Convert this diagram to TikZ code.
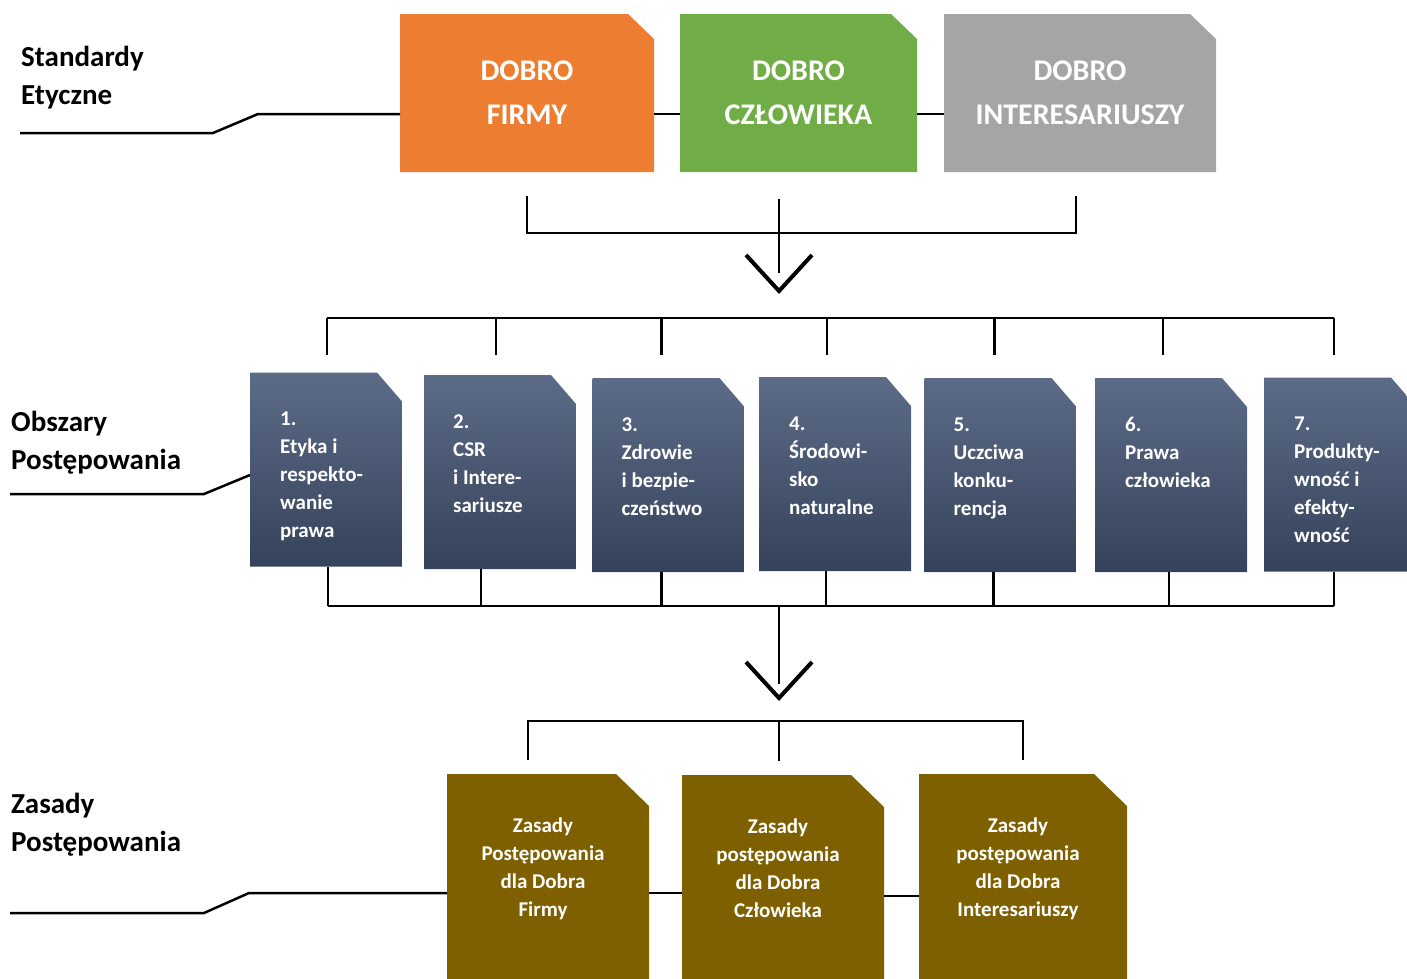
\documentclass[tikz,border=0pt]{standalone}
\usepackage{fontspec}
\setmainfont{Carlito}
\usepackage{xcolor}
\definecolor{ceOrange}{RGB}{237,125,49}
\definecolor{ceGreen}{RGB}{112,173,71}
\definecolor{ceGray}{RGB}{165,165,165}
\definecolor{ceSlateTop}{RGB}{92,107,135}
\definecolor{ceSlateBot}{RGB}{53,66,91}
\definecolor{ceOlive}{RGB}{127,96,0}
\usetikzlibrary{positioning,calc}

\begin{document}
\begin{tikzpicture}[x=1pt,y=-1pt,
  card/.style n args={3}{inner sep=0pt,outer sep=0pt,
    path picture={\path[#3] (path picture bounding box.south west)
      -- (path picture bounding box.north west)
      -- ([xshift=-#1]path picture bounding box.north east)
      -- ([yshift=-#2]path picture bounding box.north east)
      -- (path picture bounding box.south east) -- cycle;}},
  std/.style={card={26pt}{25pt}{fill=#1},minimum height=158pt,text=white,align=center,
    font=\fontsize{30}{44}\selectfont\bfseries},
  area/.style={card={25pt}{29pt}{top color=ceSlateTop,bottom color=ceSlateBot},
    minimum width=152pt,minimum height=194pt},
  areatxt/.style={anchor=base west,inner sep=0pt,text width=124pt,align=flush left,
    text=white,font=\fontsize{21}{28}\selectfont\bfseries},
  rule/.style={card={33pt}{32pt}{fill=ceOlive},minimum height=230pt},
  ruletxt/.style={anchor=base,inner sep=0pt,text width=190pt,align=flush center,
    text=white,font=\fontsize{21}{28}\selectfont\bfseries},
  lbl/.style={anchor=base west,inner sep=0pt,text width=220pt,align=flush left,
    font=\fontsize{29}{38.5}\selectfont\bfseries},
  conn/.style={line width=2.5pt},
  chev/.style={line width=4pt}]
  \useasboundingbox (0,0) rectangle (1407,978);

  % left side labels
  \node[lbl] (standardy) at (21,66) {Standardy\\Etyczne};
  \node[lbl] (obszary) at (11,431) {Obszary\\Postępowania};
  \node[lbl] (zasady) at (11,813) {Zasady\\Postępowania};

  % ethical standards
  \node[std=ceOrange,minimum width=254pt] (firmy) at (527,93) {DOBRO\\FIRMY};
  \node[std=ceGreen,minimum width=237pt] (czlowieka) at (798.5,93) {DOBRO\\CZŁOWIEKA};
  \node[std=ceGray,minimum width=272pt] (interes) at (1080,93) {DOBRO\\INTERESARIUSZY};

  \coordinate (seEnd) at (20,133);
  \draw[conn] (seEnd) -- ++(193,0) -- ++(45,-19) -- ([yshift=-21pt]firmy.west);
  \draw[conn] ([yshift=-21pt]firmy.east) -- ([yshift=-21pt]czlowieka.west);
  \draw[conn] ([yshift=-21pt]czlowieka.east) -- ([yshift=-21pt]interes.west);

  \coordinate (stdBus) at (779,233);
  \draw[conn] ([yshift=-24pt]firmy.south) -- (firmy.south |- stdBus)
    -- ([xshift=-4pt]interes.south |- stdBus) -- ++(0,-37);
  \draw[conn] ([xshift=-19.5pt,yshift=-27pt]czlowieka.south) -- ++(0,74);
  \coordinate (tip1) at (779,291);
  \draw[chev] ([shift={(-33,-36)}]tip1) -- (tip1) -- ([shift={(33,-36)}]tip1);

  % areas of conduct
  \foreach \i/\x/\y in {1/326/469.5,2/500/472,3/668.5/475,4/835/474,5/1000.5/475,6/1171/475,7/1340/474.5}
    \node[area] (a\i) at (\x,\y) {};
  \node[areatxt] (t1) at ([shift={(30,53)}]a1.north west) {1.\\Etyka i\\respekto-\\wanie\\prawa};
  \node[areatxt] (t2) at ([shift={(29,53)}]a2.north west) {2.\\CSR\\i Intere-\\sariusze};
  \node[areatxt] (t3) at ([shift={(29,53)}]a3.north west) {3.\\Zdrowie\\i bezpie-\\czeństwo};
  \node[areatxt] (t4) at ([shift={(30,53)}]a4.north west) {4.\\Środowi-\\sko\\naturalne};
  \node[areatxt] (t5) at ([shift={(29,53)}]a5.north west) {5.\\Uczciwa\\konku-\\rencja};
  \node[areatxt] (t6) at ([shift={(30,53)}]a6.north west) {6.\\Prawa\\człowieka};
  \node[areatxt] (t7) at ([shift={(30,53)}]a7.north west) {7.\\Produkty-\\wność i\\efekty-\\wność};

  \coordinate (obEnd) at (10,494);
  \draw[conn] (obEnd) -- ++(194,0) -- ([yshift=-5.5pt]a1.west);

  \coordinate (areaBus) at (779,318);
  \draw[conn] ([xshift=1pt]a1.north |- areaBus) -- ([xshift=-6pt]a7.north |- areaBus);
  \foreach \i/\d in {1/1,2/-4,3/-7,4/-8,5/-6,6/-8,7/-6}
    \draw[conn] ([xshift=\d pt]a\i.north |- areaBus) -- ++(0,37);

  \coordinate (areaBus2) at (779,606);
  \draw[conn] ([xshift=2pt]a1.south |- areaBus2) -- ([xshift=-6pt]a7.south |- areaBus2);
  \foreach \i/\d in {1/2,2/-19,3/-7,4/-9,5/-7,6/-2,7/-6}
    \draw[conn] ([xshift=\d pt]a\i.south) -- ([xshift=\d pt]a\i.south |- areaBus2);
  \draw[conn] (areaBus2) -- ++(0,78);
  \coordinate (tip2) at (779,698);
  \draw[chev] ([shift={(-33,-36)}]tip2) -- (tip2) -- ([shift={(33,-36)}]tip2);

  % rules of conduct
  \node[rule,minimum width=202pt] (r1) at (548,889) {};
  \node[rule,minimum width=202pt] (r2) at (783,890) {};
  \node[rule,minimum width=208pt] (r3) at (1023,889) {};
  \node[ruletxt] (rt1) at ([xshift=-5pt,yshift=-58pt]r1.north) {Zasady\\Postępowania\\dla Dobra\\Firmy};
  \node[ruletxt] (rt2) at ([xshift=-5pt,yshift=-58pt]r2.north) {Zasady\\postępowania\\dla Dobra\\Człowieka};
  \node[ruletxt] (rt3) at ([xshift=-5pt,yshift=-58pt]r3.north) {Zasady\\postępowania\\dla Dobra\\Interesariuszy};

  \coordinate (ruleBus) at (779,721);
  \draw[conn] ([xshift=-20pt,yshift=14pt]r1.north) -- ([xshift=-20pt]r1.north |- ruleBus)
    -- (r3.north |- ruleBus) -- ([yshift=14pt]r3.north);
  \draw[conn] (ruleBus) -- ([xshift=-4pt,yshift=14pt]r2.north);

  \coordinate (zaEnd) at (10,913);
  \draw[conn] (zaEnd) -- ++(194,0) -- ++(45,-20) -- ([yshift=-4pt]r1.west);
  \draw[conn] ([yshift=-4pt]r1.east) -- ([yshift=-4pt]r1.east -| r2.west);
  \draw[conn] ([yshift=-6pt]r2.east) -- ([yshift=-6pt]r2.east -| r3.west);
\end{tikzpicture}
\end{document}
